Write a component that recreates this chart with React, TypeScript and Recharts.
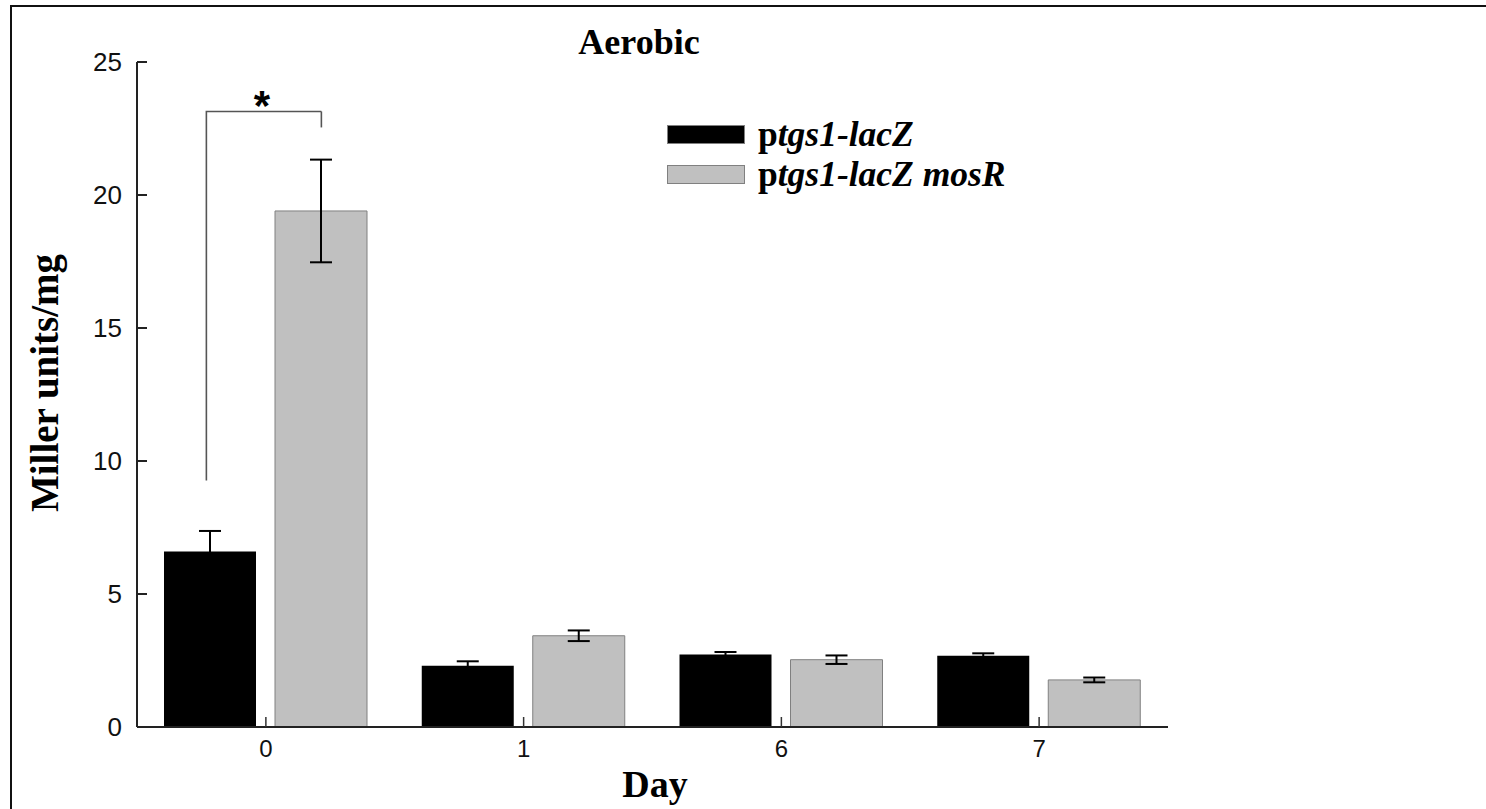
import React from 'react';
import { BarChart, Bar, XAxis, YAxis, ErrorBar, ReferenceLine } from 'recharts';

const days = ['0', '1', '6', '7'];
const lacZ = [6.6, 2.3, 2.73, 2.68];
const lacZErr = [0.77, 0.17, 0.09, 0.09];
const mosR = [19.4, 3.43, 2.53, 1.77];
const mosRErr = [1.93, 0.2, 0.16, 0.09];
const yTicks = [0, 5, 10, 15, 20, 25];

// significance bracket for day 0 (y values in Miller units/mg)
const bracketTop = 23.14;
const bracketLeftEnd = 9.27;
const bracketRightEnd = 22.54;

const BAR_SIZE = 92;
const BAR_GAP = 19;
const half = (BAR_SIZE + BAR_GAP) / 2;

const serif = '"Liberation Serif", "Times New Roman", serif';
const sans = '"Liberation Sans", Arial, sans-serif';

const data = days.map((d, i) => ({
  day: d,
  lacZ: lacZ[i],
  lacZErr: lacZErr[i],
  mosR: mosR[i],
  mosRErr: mosRErr[i],
}));

const bracketLeft = (p: any) => (
  <g>
    <path
      d={`M${p.x1 - half - 4},${p.y2} V${p.y1} H${p.x1 + half}`}
      fill="none"
      stroke="#555"
      strokeWidth={1.6}
    />
    <text x={p.x1 - 4} y={p.y1 + 9} textAnchor="middle" fontFamily={sans} fontWeight="bold" fontSize={42}>
      *
    </text>
  </g>
);

const bracketRight = (p: any) => (
  <path d={`M${p.x1 + half},${p.y1} V${p.y2}`} fill="none" stroke="#555" strokeWidth={1.6} />
);

// ticks point into the plot, like the original
const YTick = (p: any) => (
  <g>
    <line x1={p.x + 15} x2={p.x + 25} y1={p.y} y2={p.y} stroke="#222" strokeWidth={2} />
    <text x={p.x} y={p.y + 9} textAnchor="end" fontFamily={sans} fontSize={26} fill="#111">
      {p.payload.value}
    </text>
  </g>
);

const XTick = (p: any) => (
  <g>
    <line x1={p.x} x2={p.x} y1={p.y - 12} y2={p.y - 22} stroke="#333" strokeWidth={1.5} />
    <text x={p.x} y={p.y + 18} textAnchor="middle" fontFamily={sans} fontSize={24} fill="#111">
      {p.payload.value}
    </text>
  </g>
);

const legendItems = [
  { name: 'lacZ', color: '#000000', suffix: '' },
  { name: 'mosR', color: '#c0c0c0', suffix: ' mosR' },
];

export default function App() {
  return (
    <div style={{ position: 'absolute', left: 0, top: 0, width: 1486, height: 809, background: '#fff' }}>
      <svg width={1486} height={809} style={{ position: 'absolute', left: 0, top: 0 }}>
        <path d="M11,809 V6 H1486" fill="none" stroke="#111" strokeWidth={2} />
        <text x={639} y={54} textAnchor="middle" fontFamily={serif} fontWeight="bold" fontSize={36}>
          Aerobic
        </text>
        <text
          transform="translate(58,383) rotate(-90)"
          textAnchor="middle"
          fontFamily={serif}
          fontWeight="bold"
          fontSize={39}
        >
          Miller units/mg
        </text>
        <text x={655} y={797} textAnchor="middle" fontFamily={serif} fontWeight="bold" fontSize={38}>
          Day
        </text>
      </svg>
      <BarChart
        width={1486}
        height={809}
        data={data}
        margin={{ top: 62, right: 318, left: 0, bottom: 0 }}
        barGap={BAR_GAP}
        barSize={BAR_SIZE}
        style={{ position: 'absolute', left: 0, top: 0 }}
      >
        <XAxis
          dataKey="day"
          height={82}
          axisLine={{ stroke: '#222', strokeWidth: 2 }}
          tickLine={false}
          tickSize={0}
          tickMargin={12}
          tick={XTick}
        />
        <XAxis
          xAxisId="top"
          dataKey="day"
          orientation="top"
          height={0}
          tick={false}
          tickLine={false}
          axisLine={{ stroke: '#333', strokeWidth: 2 }}
        />
        <YAxis
          width={137}
          domain={[0, 25]}
          ticks={yTicks}
          interval={0}
          axisLine={{ stroke: '#222', strokeWidth: 2 }}
          tickLine={false}
          tickSize={0}
          tickMargin={15}
          tick={YTick}
        />
        <YAxis
          yAxisId="right"
          orientation="right"
          width={0}
          domain={[0, 25]}
          tick={false}
          tickLine={false}
          axisLine={{ stroke: '#333', strokeWidth: 2 }}
        />
        <ReferenceLine
          segment={[{ x: '0', y: bracketTop }, { x: '0', y: bracketLeftEnd }]}
          shape={bracketLeft}
        />
        <ReferenceLine
          segment={[{ x: '0', y: bracketTop }, { x: '0', y: bracketRightEnd }]}
          shape={bracketRight}
        />
        <Bar dataKey="lacZ" name="ptgs1-lacZ" fill="#000" isAnimationActive={false}>
          <ErrorBar dataKey="lacZErr" width={11} stroke="#000" strokeWidth={2} direction="y" />
        </Bar>
        <Bar dataKey="mosR" name="ptgs1-lacZ mosR" fill="#c0c0c0" stroke="#808080" strokeWidth={1} isAnimationActive={false}>
          <ErrorBar dataKey="mosRErr" width={11} stroke="#000" strokeWidth={2} direction="y" />
        </Bar>
      </BarChart>
      <div
        style={{
          position: 'absolute',
          left: 667,
          top: 114,
          fontFamily: serif,
          fontWeight: 'bold',
          fontSize: 35.5,
          lineHeight: '40px',
        }}
      >
        {legendItems.map((it) => (
          <div key={it.name} style={{ display: 'flex', alignItems: 'center', height: 40 }}>
            <span
              style={{
                display: 'inline-block',
                width: 76,
                height: 17,
                background: it.color,
                border: '1px solid #808080',
                marginRight: 13,
              }}
            />
            <span>
              p<i>tgs1-lacZ{it.suffix}</i>
            </span>
          </div>
        ))}
      </div>
    </div>
  );
}
